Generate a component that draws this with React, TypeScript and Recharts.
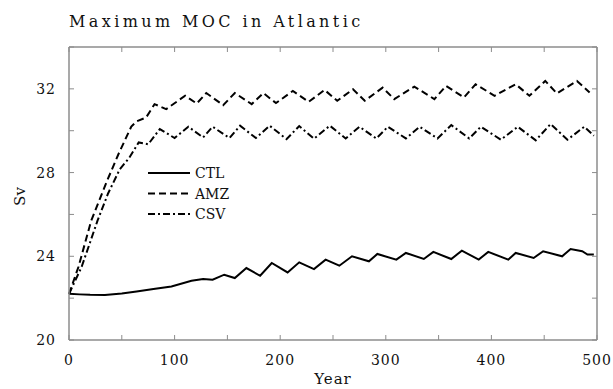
import { LineChart, Line, XAxis, YAxis, Legend, Label } from "recharts";

// values (year, Sv)
const CTL_YEARS = [0, 10, 20, 34, 50, 64, 80, 97, 116, 127, 136, 147, 157, 168, 181, 192, 207, 218, 232, 243, 256, 268, 284, 292, 310, 319, 336, 345, 362, 372, 388, 397, 416, 423, 440, 449, 467, 475, 486, 491, 497];
const CTL_SV = [22.21, 22.18, 22.16, 22.15, 22.22, 22.32, 22.44, 22.56, 22.83, 22.91, 22.88, 23.12, 22.96, 23.44, 23.07, 23.68, 23.23, 23.71, 23.39, 23.84, 23.55, 24.0, 23.76, 24.11, 23.84, 24.16, 23.87, 24.21, 23.87, 24.27, 23.84, 24.21, 23.84, 24.16, 23.92, 24.24, 24.0, 24.35, 24.24, 24.08, 24.08];

const AMZ_YEARS = [0, 9, 21, 36, 47, 59, 64, 73, 81, 92, 110, 121, 130, 146, 157, 173, 184, 196, 212, 227, 242, 254, 269, 280, 297, 308, 327, 346, 357, 374, 385, 403, 423, 436, 451, 462, 481, 493];
const AMZ_SV = [22.2, 23.5, 25.7, 27.6, 28.9, 30.2, 30.45, 30.63, 31.27, 31.03, 31.67, 31.3, 31.8, 31.22, 31.8, 31.27, 31.8, 31.32, 31.9, 31.38, 31.95, 31.43, 31.98, 31.43, 32.06, 31.51, 32.11, 31.51, 32.14, 31.59, 32.22, 31.67, 32.22, 31.67, 32.38, 31.78, 32.38, 31.83];

const CSV_YEARS = [0, 12, 27, 37, 48, 57, 66, 75, 86, 100, 113, 127, 136, 152, 162, 177, 190, 206, 218, 232, 247, 262, 275, 291, 302, 319, 332, 349, 362, 379, 390, 409, 425, 442, 456, 472, 488, 497];
const CSV_SV = [22.2, 23.5, 25.7, 27.0, 28.15, 28.7, 29.44, 29.35, 30.08, 29.65, 30.19, 29.68, 30.19, 29.65, 30.24, 29.65, 30.24, 29.6, 30.22, 29.62, 30.24, 29.63, 30.19, 29.63, 30.19, 29.63, 30.19, 29.63, 30.27, 29.63, 30.19, 29.57, 30.19, 29.54, 30.32, 29.57, 30.19, 29.76];

const X_TICKS = [0, 50, 100, 150, 200, 250, 300, 350, 400, 450, 500];
const X_LABELS = [0, 100, 200, 300, 400, 500];
const Y_TICKS = [20, 22, 24, 26, 28, 30, 32, 34];
const Y_LABELS = [20, 24, 28, 32];

const FONT = '"DejaVu Serif", serif';
const AXIS = "#8c8c8c";
const INK = "#111";

const SERIES = [
  { name: "CTL", data: CTL_YEARS.map((year, i) => ({ year, sv: CTL_SV[i] })), dash: undefined },
  { name: "AMZ", data: AMZ_YEARS.map((year, i) => ({ year, sv: AMZ_SV[i] })), dash: "7 4" },
  { name: "CSV", data: CSV_YEARS.map((year, i) => ({ year, sv: CSV_SV[i] })), dash: "7 3 2 3" },
];

const tickStyle = { fontFamily: FONT, fontSize: 14, fill: INK, letterSpacing: 1 };

function LegendBox() {
  return (
    <svg width={100} height={64} style={{ display: "block" }}>
      {SERIES.map((s, i) => {
        const y = 10 + i * 20.5;
        return (
          <g key={s.name}>
            <line x1={0} x2={42} y1={y} y2={y} stroke="#000" strokeWidth={2} strokeDasharray={s.dash} />
            <text x={47} y={y + 5} fontFamily={FONT} fontSize={14} fill={INK}>{s.name}</text>
          </g>
        );
      })}
    </svg>
  );
}

export default function App() {
  return (
    <div style={{ position: "absolute", left: 0, top: 0, width: 613, height: 389, background: "#fff" }}>
      <div
        style={{
          position: "absolute", left: 69, top: 14, fontFamily: FONT, fontSize: 16,
          lineHeight: "16px", letterSpacing: 3.4, color: INK, whiteSpace: "nowrap",
        }}
      >
        Maximum MOC in Atlantic
      </div>
      <LineChart width={613} height={389} margin={{ top: 46, right: 15, bottom: 19, left: 29 }}>
        <XAxis
          dataKey="year" type="number" domain={[0, 500]} ticks={X_TICKS} interval={0}
          tickFormatter={(v) => (X_LABELS.includes(v) ? String(v) : "")}
          tickSize={-5} tickMargin={20} height={30}
          axisLine={{ stroke: AXIS, strokeWidth: 1.5 }} tickLine={{ stroke: AXIS }} tick={tickStyle}
        >
          <Label value="Year" position="bottom" offset={3} style={{ fontFamily: FONT, fontSize: 15, fill: INK, letterSpacing: 1 }} />
        </XAxis>
        <XAxis
          xAxisId="top" orientation="top" dataKey="year" type="number" domain={[0, 500]} ticks={X_TICKS} interval={0}
          tickFormatter={() => ""} tickSize={-5} height={1}
          axisLine={{ stroke: AXIS, strokeWidth: 1.5 }} tickLine={{ stroke: AXIS }}
        />
        <YAxis
          type="number" domain={[20, 34]} ticks={Y_TICKS} interval={0}
          tickFormatter={(v) => (Y_LABELS.includes(v) ? String(v) : "")}
          tickSize={-5} tickMargin={18} width={40}
          axisLine={{ stroke: AXIS, strokeWidth: 1.5 }} tickLine={{ stroke: AXIS }} tick={tickStyle}
        >
          <Label
            content={({ viewBox }: any) => {
              const x = viewBox.x - 9;
              const y = viewBox.y + viewBox.height / 2 + 3;
              return (
                <text x={x} y={y} transform={`rotate(-90, ${x}, ${y})`} textAnchor="middle" dominantBaseline="central"
                  fontFamily={FONT} fontSize={15} fill={INK}>
                  Sv
                </text>
              );
            }}
          />
        </YAxis>
        <YAxis
          yAxisId="right" orientation="right" type="number" domain={[20, 34]} ticks={Y_TICKS} interval={0}
          tickFormatter={() => ""} tickSize={-5} width={1}
          axisLine={{ stroke: AXIS, strokeWidth: 1.5 }} tickLine={{ stroke: AXIS }}
        />
        {SERIES.map((s) => (
          <Line
            key={s.name} data={s.data} dataKey="sv" name={s.name} type="linear"
            stroke="#000" strokeWidth={2} strokeDasharray={s.dash} dot={false}
            isAnimationActive={false}
          />
        ))}
        {/* invisible copy so the top and right frame axes get drawn */}
        <Line
          xAxisId="top" yAxisId="right" data={SERIES[0].data} dataKey="sv" stroke="none"
          dot={false} activeDot={false} legendType="none" isAnimationActive={false}
        />
        <Legend
          layout="horizontal" verticalAlign="middle" align="center"
          content={() => <LegendBox />}
          wrapperStyle={{ position: "absolute", left: 148, top: 163, width: 100, height: 64 }}
        />
      </LineChart>
    </div>
  );
}
